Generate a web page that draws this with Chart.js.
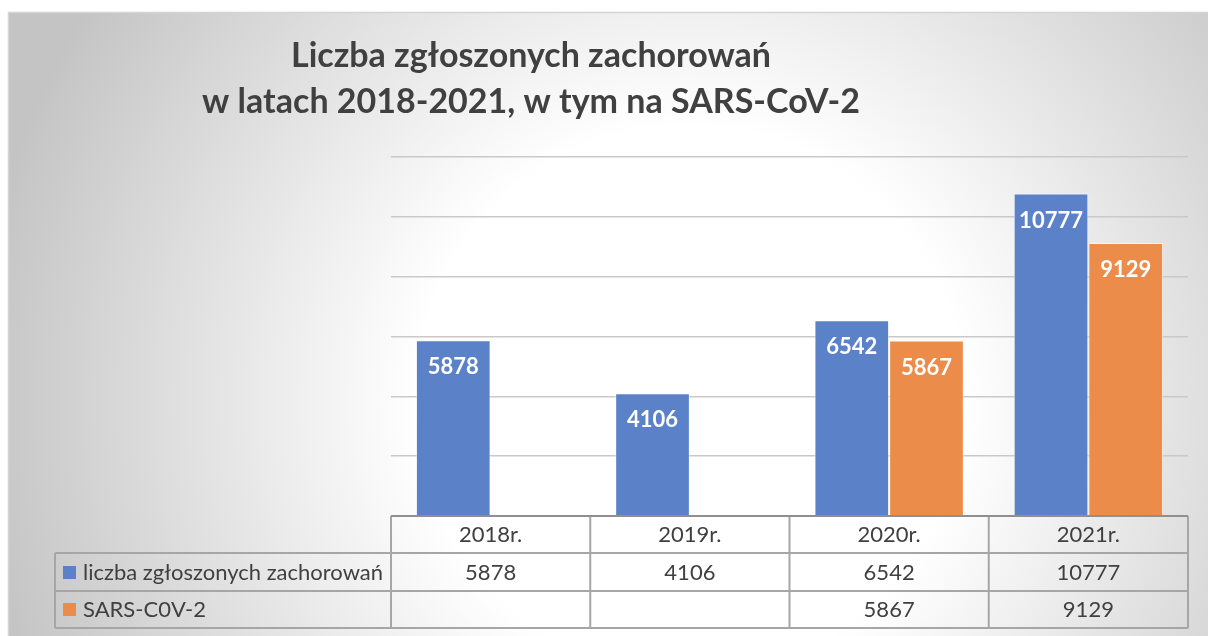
<!DOCTYPE html>
<html>
<head>
<meta charset="utf-8">
<script src="https://cdn.jsdelivr.net/npm/chart.js@4"></script>
<style>
  html, body { margin: 0; padding: 0; background: #fff; }
  #wrap { width: 1208px; height: 636px; }
</style>
</head>
<body>
<div id="wrap"><canvas id="chart" width="1208" height="636"></canvas></div>
<script>
const lata = ['2018r.', '2019r.', '2020r.', '2021r.'];
const zachorowania = [5878, 4106, 6542, 10777];
const sarsCov2 = [null, null, 5867, 9129];
const serie = ['liczba zgłoszonych zachorowań', 'SARS-C0V-2'];
const tytul = ['Liczba zgłoszonych zachorowań', 'w latach 2018-2021, w tym na SARS-CoV-2'];

const niebieski = '#5b82c9';
const pomaranczowy = '#ec8c4b';
const tekst = '#404040';
const ramka = '#a6a6a6';

const tloPlugin = {
  id: 'tlo',
  beforeDraw(chart) {
    const { ctx, width, height } = chart;
    ctx.save();
    ctx.fillStyle = '#fff';
    ctx.fillRect(0, 0, width, height);
    const g = ctx.createRadialGradient(690, 400, 0, 690, 400, 720);
    g.addColorStop(0, '#ffffff');
    g.addColorStop(0.38, '#ffffff');
    g.addColorStop(1, '#c4c4c4');
    ctx.fillStyle = g;
    ctx.fillRect(8, 12, width - 8, height - 12);
    ctx.strokeStyle = '#d4d4d4';
    ctx.lineWidth = 1.5;
    ctx.beginPath();
    ctx.moveTo(8.5, height);
    ctx.lineTo(8.5, 12.5);
    ctx.lineTo(width, 12.5);
    ctx.stroke();

    // tytuł
    ctx.fillStyle = tekst;
    ctx.font = 'bold 34px Lato';
    ctx.textAlign = 'center';
    ctx.textBaseline = 'alphabetic';
    ctx.fillText(tytul[0], 531, 67);
    ctx.fillText(tytul[1], 531, 113);
    ctx.restore();
  }
};

const etykietyPlugin = {
  id: 'etykiety',
  afterDatasetsDraw(chart) {
    const { ctx } = chart;
    ctx.save();
    ctx.font = 'bold 22px Lato';
    ctx.fillStyle = '#fff';
    ctx.textAlign = 'center';
    ctx.textBaseline = 'middle';
    chart.data.datasets.forEach((ds, i) => {
      chart.getDatasetMeta(i).data.forEach((bar, j) => {
        if (ds.data[j] == null) return;
        ctx.fillText(String(ds.data[j]), bar.x, bar.y + 27);
      });
    });
    ctx.restore();
  }
};

const tabelaPlugin = {
  id: 'tabela',
  afterDraw(chart) {
    const { ctx, chartArea } = chart;
    const x = chart.scales.x;
    const n = lata.length;
    const kol = (chartArea.right - chartArea.left) / n;
    const top = chartArea.bottom;
    const wiersze = [top, top + 37, top + 75, top + 112];
    const lewo = 55;
    ctx.save();

    ctx.strokeStyle = ramka;
    ctx.lineWidth = 2;
    ctx.beginPath();
    // poziome
    ctx.moveTo(chartArea.left, wiersze[0]); ctx.lineTo(chartArea.right, wiersze[0]);
    for (let r = 1; r < wiersze.length; r++) {
      ctx.moveTo(lewo, wiersze[r]); ctx.lineTo(chartArea.right, wiersze[r]);
    }
    // pionowe
    for (let c = 0; c <= n; c++) {
      const px = chartArea.left + c * kol;
      ctx.moveTo(px, wiersze[0]); ctx.lineTo(px, wiersze[3]);
    }
    ctx.moveTo(lewo, wiersze[1]); ctx.lineTo(lewo, wiersze[3]);
    ctx.stroke();

    ctx.strokeStyle = '#8f8f8f';
    ctx.beginPath();
    ctx.moveTo(chartArea.left, top); ctx.lineTo(chartArea.right, top);
    ctx.stroke();

    ctx.fillStyle = tekst;
    ctx.font = '22px Lato';
    ctx.textAlign = 'center';
    ctx.textBaseline = 'alphabetic';
    const bazy = [top + 26, top + 64, top + 101];
    lata.forEach((l, i) => {
      const cx = x.getPixelForValue(i);
      ctx.fillText(l, cx, bazy[0]);
      if (zachorowania[i] != null) ctx.fillText(String(zachorowania[i]), cx, bazy[1]);
      if (sarsCov2[i] != null) ctx.fillText(String(sarsCov2[i]), cx, bazy[2]);
    });

    // legenda w tabeli
    const kolory = [niebieski, pomaranczowy];
    ctx.textAlign = 'left';
    serie.forEach((s, i) => {
      ctx.fillStyle = kolory[i];
      ctx.fillRect(63, bazy[i + 1] - 14, 13, 13);
      ctx.fillStyle = tekst;
      ctx.fillText(s, 83, bazy[i + 1]);
    });
    ctx.restore();
  }
};

new Chart(document.getElementById('chart'), {
  type: 'bar',
  data: {
    labels: lata,
    datasets: [
      {
        label: serie[0],
        data: zachorowania,
        backgroundColor: niebieski,
        borderColor: 'rgba(255,255,255,0.55)',
        borderWidth: 1
      },
      {
        label: serie[1],
        data: sarsCov2,
        backgroundColor: pomaranczowy,
        borderColor: 'rgba(255,255,255,0.55)',
        borderWidth: 1
      }
    ]
  },
  options: {
    responsive: false,
    animation: false,
    events: [],
    layout: { padding: { left: 391, right: 20, top: 157, bottom: 120 } },
    datasets: { bar: { categoryPercentage: 0.75, barPercentage: 1 } },
    scales: {
      x: { display: false },
      y: {
        min: 0,
        max: 12000,
        ticks: { display: false, stepSize: 2000 },
        grid: { color: '#c9c9c9', lineWidth: 1.5, drawTicks: false },
        border: { display: false }
      }
    },
    plugins: {
      legend: { display: false },
      tooltip: { enabled: false },
      title: { display: false }
    }
  },
  plugins: [tloPlugin, etykietyPlugin, tabelaPlugin]
});
</script>
</body>
</html>
